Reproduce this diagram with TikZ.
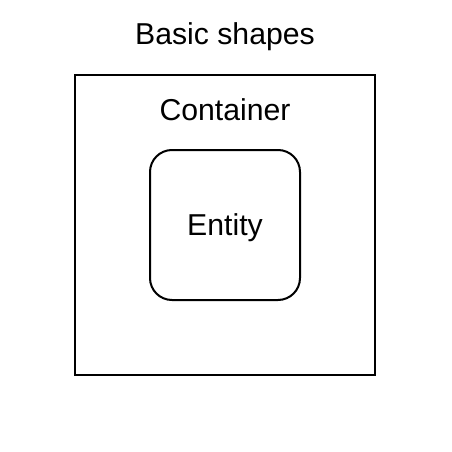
\documentclass[tikz,border=0pt]{standalone}
\usepackage{fontspec}
\setmainfont{Liberation Sans}
\begin{document}
\begin{tikzpicture}[x=1pt,y=-1pt,
  lbl/.style={font=\fontsize{30.2}{34}\selectfont, inner sep=0pt, anchor=base},
  box/.style={draw=black, line width=2pt}]
\useasboundingbox (0,0) rectangle (452,452);
\node[box, minimum width=300pt, minimum height=300pt, inner sep=0pt] (container) at (225,225) {};
\node[box, rounded corners=22pt, minimum width=150pt, minimum height=150pt, inner sep=0pt] (entity) at (225,225) {};
\node[lbl] (title) at (225,45) {Basic shapes};
\node[lbl] (ctext) at (225,120) {Container};
\node[lbl] (etext) at (225,235) {Entity};
\end{tikzpicture}
\end{document}
